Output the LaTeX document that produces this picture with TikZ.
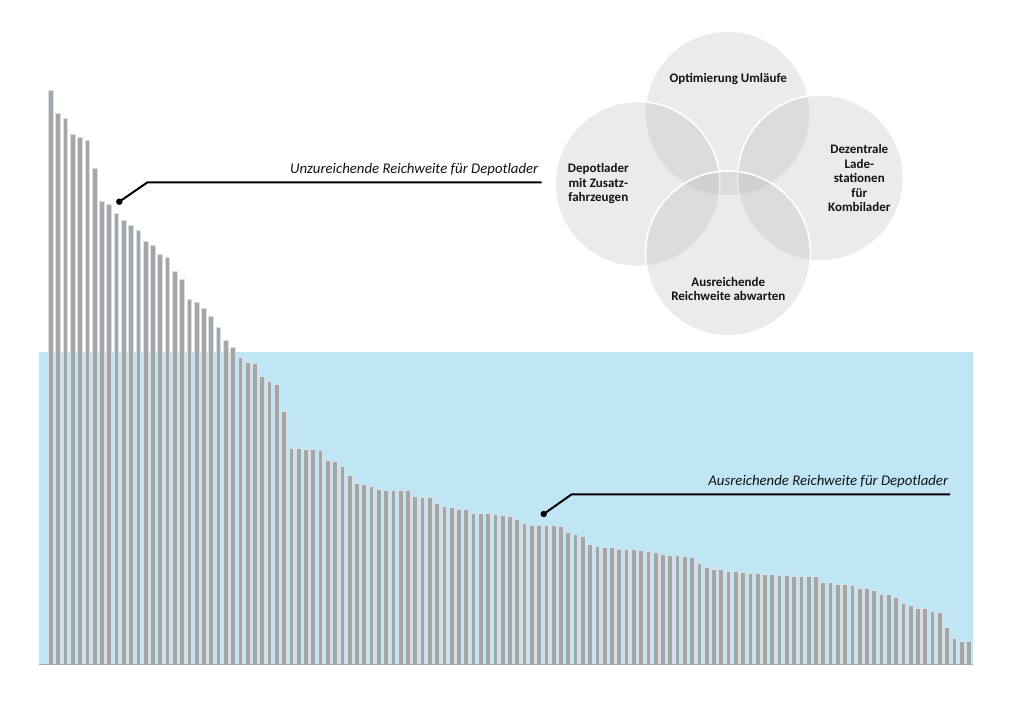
\documentclass[tikz,border=0pt]{standalone}
\usepackage{fontspec}
\setmainfont{Carlito}
\definecolor{barc}{RGB}{166,166,166}
\definecolor{baredge}{RGB}{214,224,230}
\definecolor{bluebg}{RGB}{192,229,245}
\definecolor{vennfill}{RGB}{175,175,175}
\definecolor{txt}{RGB}{20,20,20}
\tikzset{
  bar/.style={fill=barc, draw=baredge, line width=0.4pt},
  vennc/.style={fill=vennfill, fill opacity=0.25, draw=white, line width=1.6pt},
  venntxt/.style={font=\bfseries\fontsize{13}{14.5}\selectfont, text=txt, align=center, inner sep=0pt},
  lbl/.style={font=\itshape\fontsize{14.8}{17}\selectfont, text=txt, inner sep=0pt},
  leader/.style={line width=2pt, draw=black, line join=round},
}
\begin{document}
\begin{tikzpicture}[x=1pt,y=-1pt]
\useasboundingbox (0,0) rectangle (1024,727);
% blue background
\fill[bluebg] (38.5,352) rectangle (973,664);
% bars
\foreach \t [count=\i] in {90,113.3,118.7,134,137,140.3,168.3,201.3,204.3,213.3,220.3,225.3,230.3,241,245.3,253.7,257.3,271,278.7,299,302,308.3,316.3,327,340,347.3,357,361.7,363.3,376,381,383.7,410.7,447.7,447.7,449,449.3,450.3,460.3,461,465.7,475,483.3,483.7,485.7,489,489.7,489.7,490,490,496,496.7,496.7,503.3,506,507,509,509,512.7,512.7,513.3,514.3,515.5,515.7,518.8,522.7,524.7,524.7,525,525,526,532,533.7,536.3,543.7,546.3,547,547.3,549.3,549.3,549.3,549.7,551,552.3,554,555,555,555.7,557,562.7,567.3,569,569,570.7,570.7,572.5,573,573.3,573.7,574.3,575,575,575.7,575.7,576,576,582,582.3,584,584,585,588.3,588.3,590,594,594,597.3,603,605.3,608.3,608.3,611,612,626.7,637.7,640.7,640.7}
{
  \pgfmathsetmacro{\xl}{48.3+(\i-1)*7.286}
  \path[bar] (\xl,\t) rectangle ({\xl+4.7},664);
}
% axis line
\draw[barc, line width=1pt] (38.5,664.5) -- (973,664.5);
% Venn circles
\path[vennc] (727.5,113.5) circle (82.5);
\path[vennc] (637.5,184) circle (82.5);
\path[vennc] (820.5,178) circle (83);
\path[vennc] (728,253.5) circle (82.5);
% Venn texts
\node[venntxt] (t1) at (728.3,79.3) {Optimierung Umläufe};
\node[venntxt] (t2) at (598.3,184) {Depotlader\\mit Zusatz-\\fahrzeugen};
\node[venntxt] (t3) at (859.3,178) {Dezentrale\\Lade-\\stationen\\für\\Kombilader};
\node[venntxt] (t4) at (728.3,289) {Ausreichende\\Reichweite abwarten};
% labels
\node[lbl, anchor=base east] (l1) at (538.5,174) {Unzureichende Reichweite für Depotlader};
\node[lbl, anchor=base east] (l2) at (948.3,485.7) {Ausreichende Reichweite für Depotlader};
% leader lines
\coordinate (d1) at (119.3,201.7);
\coordinate (k1) at (147.5,182.3);
\coordinate (e1) at (541.7,182.3);
\coordinate (d2) at (543.7,514);
\coordinate (k2) at (571.7,494.3);
\coordinate (e2) at (950,494.3);
\draw[leader] (d1) -- (k1) -- (e1);
\fill (d1) circle (3.2);
\draw[leader] (d2) -- (k2) -- (e2);
\fill (d2) circle (3.2);
\end{tikzpicture}
\end{document}
